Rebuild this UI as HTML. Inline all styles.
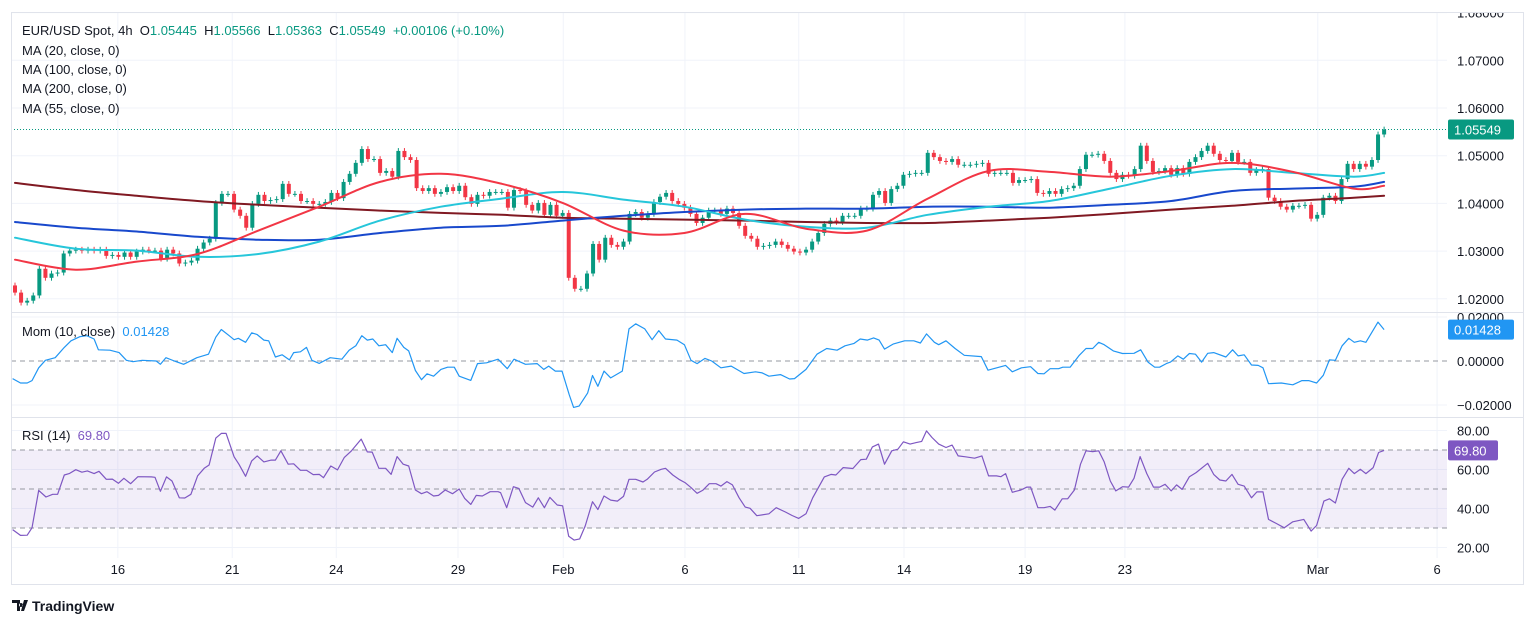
<!DOCTYPE html>
<html><head><meta charset="utf-8"><style>
html,body{margin:0;padding:0;background:#fff;}
body{width:1536px;height:626px;overflow:hidden;font-family:"Liberation Sans",sans-serif;}
svg{display:block;}
text{font-family:"Liberation Sans",sans-serif;}
</style></head><body>
<svg id="chart" width="1536" height="626" viewBox="0 0 1536 626" xmlns="http://www.w3.org/2000/svg">
<rect x="0" y="0" width="1536" height="626" fill="#fff"/>
<g id="grid"></g>
<g id="rsiband"></g>
<g id="main"></g>
<g id="mom"></g>
<g id="rsi"></g>
<g id="axes"></g>
<rect x="11.5" y="12.5" width="1512" height="572" fill="none" stroke="#e0e3eb"/>
<line x1="11" y1="312.5" x2="1524" y2="312.5" stroke="#e0e3eb"/>
<line x1="11" y1="417.5" x2="1524" y2="417.5" stroke="#e0e3eb"/>
<g font-size="13" fill="#131722">
<text x="22" y="35">EUR/USD Spot, 4h&#160; O<tspan fill="#089981">1.05445</tspan>&#160; H<tspan fill="#089981">1.05566</tspan>&#160; L<tspan fill="#089981">1.05363</tspan>&#160; C<tspan fill="#089981">1.05549</tspan>&#160; <tspan fill="#089981">+0.00106 (+0.10%)</tspan></text>
<text x="22" y="55">MA (20, close, 0)</text>
<text x="22" y="74">MA (100, close, 0)</text>
<text x="22" y="93">MA (200, close, 0)</text>
<text x="22" y="113">MA (55, close, 0)</text>
<text x="22" y="336">Mom (10, close)&#160; <tspan fill="#2196f3">0.01428</tspan></text>
<text x="22" y="440">RSI (14)&#160; <tspan fill="#7e57c2">69.80</tspan></text>
</g>
<g>
<path d="M12 600h8v11h-3v-8h-5z M21 603a2 2 0 1 0 0.01 0z M24 600h4l-4 11h-3z" fill="#131722"/>
<text x="32" y="611" font-size="14" font-weight="bold" fill="#131722">TradingView</text>
</g>
</svg>
<script>
const closes=[1.0213,1.0192,1.0196,1.0207,1.0263,1.0244,1.0253,1.0255,1.0295,1.0301,
1.0303,1.0301,1.0303,1.0301,1.0303,1.0290,1.0292,1.0288,1.0297,1.0288,
1.0299,1.0303,1.0301,1.0301,1.0284,1.0303,1.0295,1.0274,1.0276,1.0280,
1.0305,1.0318,1.0326,1.0401,1.0420,1.0420,1.0387,1.0374,1.0349,1.0399,
1.0418,1.0405,1.0407,1.0409,1.0441,1.0420,1.0420,1.0405,1.0405,1.0399,
1.0399,1.0403,1.0422,1.0411,1.0445,1.0462,1.0485,1.0514,1.0493,1.0493,
1.0464,1.0468,1.0456,1.0510,1.0497,1.0491,1.0432,1.0426,1.0432,1.0420,
1.0424,1.0434,1.0426,1.0437,1.0413,1.0399,1.0418,
1.0416,1.0424,1.0424,1.0424,1.0391,1.0428,1.0426,1.0397,1.0385,1.0401,
1.0376,1.0397,1.0374,1.0380,1.0244,1.0221,1.0221,1.0253,1.0315,1.0282,
1.0328,1.0313,1.0309,1.0320,1.0378,1.0382,1.0370,1.0378,1.0403,1.0414,
1.0422,1.0405,1.0399,1.0391,1.0378,1.0359,1.0370,1.0385,1.0385,1.0378,
1.0389,1.0380,1.0353,1.0332,1.0326,1.0309,1.0311,1.0313,1.0320,1.0313,
1.0305,1.0299,1.0297,1.0303,1.0320,1.0338,1.0357,1.0364,1.0361,1.0374,
1.0374,1.0374,1.0389,1.0389,1.0418,1.0426,1.0401,1.0430,1.0437,1.0460,
1.0462,1.0464,1.0464,1.0506,1.0497,
1.0489,1.0487,1.0493,1.0481,1.0481,1.0481,1.0483,1.0485,1.0462,1.0464,
1.0464,1.0464,1.0443,1.0449,1.0449,1.0451,1.0422,1.0420,1.0426,1.0420,
1.0430,1.0432,1.0437,1.0472,1.0502,1.0502,1.0504,1.0489,1.0464,1.0451,
1.0460,1.0458,1.0472,1.0521,1.0489,1.0466,1.0468,1.0474,1.0460,1.0474,
1.0462,1.0487,1.0497,1.0510,1.0521,1.0504,1.0491,1.0489,1.0506,1.0487,
1.0487,1.0464,1.0470,1.0472,1.0412,1.0405,1.0393,1.0387,1.0395,1.0395,
1.0397,1.0368,1.0376,1.0412,1.0416,1.0405,1.0451,1.0483,1.0472,1.0483,
1.0477,1.0491,1.05445,1.05549];
const firstOpen=1.0228;
const maIdx=[0,10,20,30,40,50,60,70,80,90,100,110,120,130,140,150,160,170,180,190,200,210,220,225];
const ma20=[1.0282,1.0261,1.0278,1.0294,1.0343,1.0393,1.0445,1.0462,1.0441,1.0401,1.0343,1.0338,1.0378,1.0347,1.0343,1.0410,1.0468,1.0466,1.0456,1.0468,1.0485,1.0466,1.0431,1.0437];
const ma55=[1.0328,1.0305,1.0301,1.0288,1.0294,1.0320,1.0364,1.0393,1.0410,1.0424,1.0408,1.0393,1.0366,1.0351,1.0349,1.0376,1.0393,1.0405,1.0431,1.0458,1.0472,1.0464,1.0456,1.0464];
const ma100=[1.0361,1.0349,1.0341,1.0330,1.0324,1.0324,1.0338,1.0349,1.0353,1.0364,1.0374,1.0382,1.0387,1.0389,1.0389,1.0393,1.0393,1.0391,1.0397,1.0405,1.0426,1.0431,1.0435,1.0445];
const ma200=[1.0443,1.0428,1.0416,1.0405,1.0397,1.0391,1.0385,1.0380,1.0376,1.0370,1.0368,1.0366,1.0364,1.0361,1.0359,1.0359,1.0364,1.0370,1.0378,1.0387,1.0395,1.0405,1.0412,1.0416];
const momIdx=[-0.4,0.9,2.0,2.8,3.9,5.0,6.6,8.1,9.2,10.7,11.8,13.0,13.7,15.6,17.1,18.3,19.4,20.9,23.2,23.9,24.8,26.2,27.7,29.9,31.8,33.0,33.9,35.2,36.0,36.7,37.9,38.9,39.8,40.9,41.7,42.8,43.9,45.1,45.8,46.9,47.9,48.8,50.0,51.8,53.7,54.9,56.0,57.0,57.9,58.8,59.8,60.9,62.0,62.8,63.9,64.7,65.8,66.8,67.7,68.8,70.0,71.1,72.2,73.0,74.9,76.0,77.5,79.4,80.9,82.0,83.9,85.8,86.9,87.7,88.8,89.9,91.1,91.8,92.7,94.1,94.9,95.8,96.8,97.9,99.8,100.9,102.0,103.5,104.7,105.8,106.9,108.8,110.0,111.1,112.1,113.4,114.5,
116.0,117.7,119.8,121.7,122.8,123.9,125.8,127.3,128.1,130.0,131.8,133.4,135.1,136.4,137.9,138.9,140.1,141.1,142.0,142.9,144.3,146.2,147.7,148.8,149.8,151.1,151.8,153.0,154.5,156.0,158.8,159.9,162.8,163.9,165.4,166.9,168.1,169.1,170.1,171.5,172.2,173.4,174.9,176.0,177.1,178.1,179.0,180.5,182.0,183.9,185.0,186.2,187.3,188.1,189.2,189.9,191.1,192.0,193.0,194.0,195.0,196.0,197.0,199.0,200.1,201.0,202.0,203.2,204.3,205.1,206.0,208.1,210.0,211.5,212.6,213.9,215.0,216.0,217.0,218.1,219.2,220.1,221.1,222.0,224.0,225.0];
const momVal=[-0.0080,-0.0100,-0.0100,-0.0089,-0.0031,0.0003,0.0015,0.0062,0.0092,0.0111,0.0115,0.0100,0.0051,0.0049,0.0038,0.0003,-0.0003,0.0003,0,-0.0015,0.0015,0,-0.0015,0.0015,0.0031,0.0108,0.0143,0.0115,0.0097,0.0103,0.0085,0.0128,0.0120,0.0095,0.0092,0.0018,0.0028,0.0005,0.0038,0.0042,0.0062,0.0003,-0.0011,0.0015,0.0008,0.0049,0.0069,0.0115,0.0095,0.0100,0.0069,0.0074,0.0038,0.0103,0.0062,0.0046,-0.0043,-0.0085,-0.0058,-0.0069,-0.0038,-0.0028,-0.0028,-0.0069,-0.0088,-0.0012,-0.0008,0.0008,-0.0035,0.0008,-0.0015,-0.0012,-0.0038,-0.0023,-0.0046,-0.0046,-0.0154,-0.0211,-0.0205,-0.0146,-0.0066,-0.0115,-0.0046,-0.0077,-0.0046,0.0146,0.0169,0.0146,0.0097,0.0138,0.0100,0.0095,0.0074,0.0003,-0.0012,0.0012,0,
-0.0031,-0.0023,-0.0057,-0.0049,-0.0054,-0.0069,-0.0062,-0.0082,-0.0080,-0.0038,0.0031,0.0057,0.0049,0.0069,0.0080,0.0100,0.0095,0.0105,0.0095,0.0054,0.0077,0.0092,0.0092,0.0082,0.0123,0.0085,0.0074,0.0092,0.0057,0.0026,0.0020,-0.0042,-0.0020,-0.0049,-0.0031,-0.0026,-0.0057,-0.0058,-0.0035,-0.0035,-0.0028,-0.0028,0.0026,0.0057,0.0057,0.0085,0.0074,0.0046,0.0034,0.0035,0.0051,-0.0005,-0.0028,-0.0028,-0.0012,-0.0005,0.0023,0.0008,0.0034,0.0031,-0.0005,0.0035,0.0038,0.0018,0.0051,0.0023,0.0028,-0.0018,-0.0020,-0.0031,-0.0103,-0.0100,-0.0108,-0.0089,-0.0089,-0.0100,-0.0065,0.0005,0.0003,0.0069,0.0103,0.0085,0.0092,0.0085,0.0177,0.01428];
const rsiIdx=[-0.4,0.9,2.0,2.8,3.9,5.1,6.2,7.0,8.1,8.9,10.0,11.0,11.9,13.0,13.8,15.0,16.0,17.0,17.9,19.0,20.2,22.4,23.0,23.9,24.9,25.8,27.0,27.9,28.9,30.0,31.1,31.9,33.0,33.9,34.7,36.0,36.8,37.9,38.9,39.8,40.9,42.1,42.8,43.7,44.9,45.8,46.9,47.9,49.0,50.0,50.7,51.9,53.0,54.1,55.3,56.9,57.9,58.7,59.8,60.9,61.8,62.8,63.8,64.7,65.8,66.8,67.7,68.8,69.6,70.7,71.9,73.0,73.9,74.9,75.8,76.8,78.1,79.4,79.8,80.8,81.9,82.8,83.9,85.1,86.0,87.0,87.9,89.1,90.0,91.0,91.9,92.8,93.7,94.9,95.8,96.8,97.9,99.0,100.0,100.9,102.0,103.2,103.9,105.1,106.2,106.9,108.1,109.1,110.1,111.1,112.1,113.0,114.1,115.2,
116.0,117.0,117.9,119.0,120.0,120.8,121.9,123.9,125.1,126.6,127.7,128.8,130.0,131.1,133.0,134.1,134.9,136.1,137.7,139.0,139.9,140.9,141.9,142.9,144.1,145.1,146.0,147.1,148.1,149.0,149.8,150.7,151.8,153.0,154.0,155.0,156.2,157.7,158.9,160.0,161.3,162.0,162.8,163.9,165.3,166.3,166.9,168.1,169.1,170.1,170.9,172.1,173.0,174.1,175.1,176.0,177.1,178.1,179.0,180.0,180.9,182.0,183.0,183.9,184.9,186.0,187.1,188.1,189.0,190.0,190.9,191.8,193.0,194.1,196.0,197.0,198.0,199.0,200.0,201.0,202.0,203.2,204.1,205.1,206.0,207.3,208.6,210.0,211.8,213.0,213.9,215.1,216.0,217.0,218.1,219.2,220.1,221.1,222.0,223.2,224.1,225.0];
const rsiVal=[29.2,26.2,26.3,30.1,49.3,45.9,47.3,47.3,57.2,57.9,59.9,58.6,59.3,57.9,59.1,55.0,55.1,52.9,55.5,52.7,56.3,56.2,56.0,48.8,56.2,54.1,45.5,45.4,47.3,56.7,60.6,62.3,76.1,78.5,78.5,66.5,62.7,56.5,64.4,67.0,63.9,64.8,64.8,69.6,62.7,62.9,59.6,59.6,57.4,57.5,55.8,61.8,59.8,66.1,69.6,75.6,69.0,68.9,60.6,60.6,57.5,66.6,62.7,61.8,49.5,47.6,48.6,46.4,46.7,49.5,47.6,50.0,45.2,42.1,46.7,46.4,48.6,48.6,48.1,40.4,51.2,50.3,43.0,40.7,45.5,40.4,45.7,41.8,41.4,25.8,23.8,24.4,31.0,43.5,39.5,46.4,44.3,43.8,46.2,55.0,55.0,53.6,55.0,58.7,60.1,60.6,57.2,55.0,53.3,50.7,47.8,49.3,52.7,52.7,
51.5,53.8,52.1,45.5,40.7,40.1,36.3,37.3,40.4,38.2,36.4,34.9,37.3,45.5,56.2,57.5,57.2,61.0,60.5,65.1,65.3,71.6,73.0,62.7,69.6,70.4,74.2,73.0,73.8,74.4,79.8,76.4,73.0,71.3,72.5,67.0,66.5,65.8,67.0,56.7,56.7,56.3,57.9,48.3,49.5,51.0,51.0,40.4,40.4,41.1,39.2,45.0,45.0,49.5,62.7,69.6,69.2,69.6,63.9,54.1,49.0,51.2,51.0,55.5,66.6,57.9,51.0,51.0,52.4,49.0,52.1,49.8,56.3,58.4,63.2,57.5,54.6,54.1,57.5,52.4,51.5,45.5,48.5,48.5,34.4,32.3,30.1,33.2,34.4,28.4,31.3,43.8,45.0,42.8,55.0,60.6,57.9,60.1,57.9,61.0,68.7,69.8];
const priceTicks=[1.08,1.07,1.06,1.05,1.04,1.03,1.02];
const momTicks=[0.02,0,-0.02];
const rsiTicks=[80,60,40,20];
const dateLabels=["16","21","24","29","Feb","6","11","14","19","23","Mar","6"];
const dateIdx=[16.9,35.7,52.8,72.8,90.1,110.1,128.8,146.1,166,182.4,214.1,233.7];

const NS="http://www.w3.org/2000/svg";
const PL=11,PR=1447;
const xi=i=>15+i*6.085;
const yP=p=>108+(1.06-p)*4770;
const yM=m=>361-m*2200;
const yR=r=>489-(r-50)*1.95;
function mk(parent,tag,attrs){const e=document.createElementNS(NS,tag);for(const k in attrs)e.setAttribute(k,attrs[k]);parent.appendChild(e);return e;}
const g=document.getElementById('grid'),ax=document.getElementById('axes');
const defs=mk(document.getElementById('chart'),'defs',{});
const cp=mk(defs,'clipPath',{id:'cm'});mk(cp,'rect',{x:PL,y:13,width:PR-PL,height:299});
const cp2=mk(defs,'clipPath',{id:'cmo'});mk(cp2,'rect',{x:PL,y:313,width:PR-PL,height:104});
const cp3=mk(defs,'clipPath',{id:'cr'});mk(cp3,'rect',{x:PL,y:418,width:PR-PL,height:140});
document.getElementById('main').setAttribute('clip-path','url(#cm)');
document.getElementById('mom').setAttribute('clip-path','url(#cmo)');
document.getElementById('rsi').setAttribute('clip-path','url(#cr)');
dateLabels.forEach((t,k)=>{const x=xi(dateIdx[k]);
 const l=mk(g,'line',{x1:x,x2:x,y1:13,y2:558,stroke:'#f0f3fa'});
 
 
 const tx=mk(ax,'text',{x:x,y:574,'text-anchor':'middle','font-size':'13',fill:'#131722'});tx.textContent=t;
 
 
});
priceTicks.forEach(p=>{const y=yP(p);
 const l=mk(g,'line',{x1:PL,x2:PR,y1:y,y2:y,stroke:'#f0f3fa'});
 
 
 const tx=mk(ax,'text',{x:1457,y:y+5,'font-size':'13',fill:'#131722'});tx.textContent=p.toFixed(5);
 
 
});
momTicks.forEach(m=>{const y=yM(m);
 if(m!==0){const l=mk(g,'line',{x1:PL,x2:PR,y1:y,y2:y,stroke:'#f0f3fa'});
 
 }
 const tx=mk(ax,'text',{x:1457,y:y+5,'font-size':'13',fill:'#131722'});tx.textContent=(m===0?'0.00000':(m<0?'\u22120.02000':'0.02000'));
 
 
});
rsiTicks.forEach(r=>{const y=yR(r);
 const l=mk(g,'line',{x1:PL,x2:PR,y1:y,y2:y,stroke:'#f0f3fa'});
 
 
 const tx=mk(ax,'text',{x:1457,y:y+5,'font-size':'13',fill:'#131722'});tx.textContent=r.toFixed(2);
 
 
});
mk(ax,'rect',{x:1448,y:0,width:88,height:12,fill:'#fff'});
mk(ax,'rect',{x:1448,y:304,width:75,height:8,fill:'#fff'});
const rb=document.getElementById('rsiband');
const band=mk(rb,'rect',{x:PL,y:yR(70),width:PR-PL,height:yR(30)-yR(70),fill:'#7e57c2','fill-opacity':'0.1'});


[70,50,30].forEach(r=>{const l=mk(rb,'line',{x1:PL,x2:PR,y1:yR(r),y2:yR(r),stroke:'#9598a1','stroke-dasharray':'5 4','stroke-width':'1'});
 
 });
const mz=mk(document.getElementById('mom'),'line',{x1:PL,x2:PR,y1:yM(0),y2:yM(0),stroke:'#9598a1','stroke-dasharray':'5 4'});


const main=document.getElementById('main');
closes.forEach((c,i)=>{const o=i===0?firstOpen:closes[i-1];const up=c>=o;const col=up?'#089981':'#f23645';
 const x=xi(i);const hi=Math.max(o,c)+0.0006,lo=Math.min(o,c)-0.0006;
 const cg=mk(main,'g',{});
 
 
 mk(cg,'line',{x1:x,x2:x,y1:yP(hi),y2:yP(lo),stroke:col,'stroke-width':'1'});
 const t=yP(Math.max(o,c)),b=yP(Math.min(o,c));
 mk(cg,'rect',{x:x-2,y:t,width:4,height:Math.max(1,b-t),fill:col});
});
function line(parent,xs,ys,col,w,name){const d=xs.map((v,k)=>(k?'L':'M')+v.toFixed(1)+' '+ys[k].toFixed(1)).join('');
 const p=mk(parent,'path',{d:d,fill:'none',stroke:col,'stroke-width':w,'stroke-linejoin':'round'});
 
 }
function smooth(parent,xs,ys,col,w,name){let d='M'+xs[0].toFixed(1)+' '+ys[0].toFixed(1);
 for(let k=0;k<xs.length-1;k++){const x0=xs[Math.max(0,k-1)],y0=ys[Math.max(0,k-1)],x1=xs[k],y1=ys[k],x2=xs[k+1],y2=ys[k+1],x3=xs[Math.min(xs.length-1,k+2)],y3=ys[Math.min(xs.length-1,k+2)];
  d+='C'+(x1+(x2-x0)/6).toFixed(1)+' '+(y1+(y2-y0)/6).toFixed(1)+' '+(x2-(x3-x1)/6).toFixed(1)+' '+(y2-(y3-y1)/6).toFixed(1)+' '+x2.toFixed(1)+' '+y2.toFixed(1);}
 const p=mk(parent,'path',{d:d,fill:'none',stroke:col,'stroke-width':w,'stroke-linecap':'round'});
 
 }
smooth(main,maIdx.map(xi),ma200.map(yP),'#801922',2,'ma200-line');
smooth(main,maIdx.map(xi),ma100.map(yP),'#1848cc',2,'ma100-line');
smooth(main,maIdx.map(xi),ma55.map(yP),'#26c6da',2,'ma55-line');
smooth(main,maIdx.map(xi),ma20.map(yP),'#f23645',2,'ma20-line');
const last=closes[closes.length-1];
const lp=mk(main,'line',{x1:PL,x2:PR,y1:yP(last),y2:yP(last),stroke:'#089981','stroke-dasharray':'1 2'});


line(document.getElementById('mom'),momIdx.map(xi),momVal.map(yM),'#2196f3',1.2,'momentum-line');
line(document.getElementById('rsi'),rsiIdx.map(xi),rsiVal.map(yR),'#7e57c2',1.2,'rsi-line');
function badge(y,txt,col,w,name){const bg=mk(ax,'g',{});
 
 
 mk(bg,'rect',{x:1448,y:y-10,width:w,height:20,rx:2,fill:col});
 const t=mk(bg,'text',{x:1454,y:y+5,'font-size':'13',fill:'#fff'});t.textContent=txt;}
badge(yP(last),last.toFixed(5),'#089981',66,'last-price-badge');
badge(yM(momVal[momVal.length-1]),momVal[momVal.length-1].toFixed(5),'#2196f3',66,'mom-value-badge');
badge(yR(rsiVal[rsiVal.length-1]),rsiVal[rsiVal.length-1].toFixed(2),'#7e57c2',50,'rsi-value-badge');
</script>
</body></html>
